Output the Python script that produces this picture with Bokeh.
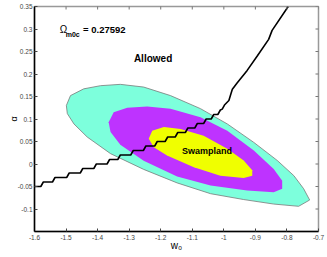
import math
from bokeh.plotting import figure
from bokeh.models import Range1d, FixedTicker, Label
from bokeh.embed import file_html
from bokeh.resources import INLINE

# ---- data ----
w0_ticks = [-1.6, -1.5, -1.4, -1.3, -1.2, -1.1, -1.0, -0.9, -0.8, -0.7]
w0_tick_labels = ["-1.6", "-1.5", "-1.4", "-1.3", "-1.2", "-1.1", "-1", "-0.9", "-0.8", "-0.7"]
alpha_ticks = [-0.1, -0.05, 0, 0.05, 0.1, 0.15, 0.2, 0.25, 0.3, 0.35]
alpha_tick_labels = ["-0.1", "-0.05", "0", "0.05", "0.1", "0.15", "0.2", "0.25", "0.3", "0.35"]

# outer (cyan) contour
outer_w = [-1.499, -1.486, -1.444, -1.391, -1.328, -1.254, -1.169, -1.074, -0.989, -0.905,
           -0.831, -0.778, -0.747, -0.728, -0.763, -0.842, -0.937, -1.042, -1.148, -1.254,
           -1.359, -1.433, -1.475, -1.496]
outer_a = [0.130, 0.152, 0.167, 0.174, 0.177, 0.171, 0.152, 0.123, 0.089, 0.048,
           0.008, -0.026, -0.055, -0.080, -0.094, -0.089, -0.079, -0.066, -0.042, -0.012,
           0.023, 0.060, 0.089, 0.112]

# middle (purple) contour
mid_w = [-1.365, -1.349, -1.306, -1.243, -1.169, -1.074, -0.989, -0.905, -0.842, -0.815,
         -0.815, -0.842, -0.926, -1.042, -1.148, -1.254, -1.328, -1.359]
mid_a = [0.093, 0.115, 0.125, 0.128, 0.123, 0.104, 0.074, 0.030, -0.011, -0.037,
         -0.055, -0.063, -0.059, -0.048, -0.028, 0.007, 0.043, 0.071]

# inner (yellow) contour
inner_w = [-1.238, -1.227, -1.190, -1.137, -1.064, -0.989, -0.937, -0.910, -0.910, -0.937,
           -1.011, -1.095, -1.180, -1.222]
inner_a = [0.056, 0.074, 0.082, 0.078, 0.063, 0.034, 0.008, -0.014, -0.026, -0.031,
           -0.026, -0.007, 0.019, 0.037]

# swampland boundary curve
curve_w = [-1.600, -1.580, -1.572, -1.543, -1.535, -1.498, -1.490, -1.455, -1.447, -1.412,
           -1.404, -1.370, -1.362, -1.336, -1.328, -1.295, -1.287, -1.255, -1.247, -1.219,
           -1.211, -1.186, -1.178, -1.154, -1.146, -1.122, -1.114, -1.092, -1.084, -1.064,
           -1.056, -1.040, -1.032, -1.019, -1.011, -1.005, -0.998, -0.984, -0.977, -0.973,
           -0.958, -0.926, -0.893, -0.858, -0.847, -0.796]
curve_a = [-0.05, -0.05, -0.04, -0.04, -0.03, -0.03, -0.02, -0.02, -0.01, -0.01,
           0.00, 0.00, 0.01, 0.01, 0.02, 0.02, 0.03, 0.03, 0.04, 0.04,
           0.05, 0.05, 0.06, 0.06, 0.07, 0.07, 0.08, 0.08, 0.09, 0.09,
           0.10, 0.10, 0.11, 0.11, 0.12, 0.122, 0.131, 0.141, 0.157, 0.166,
           0.180, 0.208, 0.241, 0.277, 0.297, 0.35]

FONT = "Liberation Sans"
X_MIN, X_MAX = -1.6, -0.7
Y_MIN, Y_MAX = -0.15, 0.35

p = figure(frame_width=284, frame_height=225,
           x_range=Range1d(X_MIN, X_MAX), y_range=Range1d(Y_MIN, Y_MAX),
           output_backend="svg", toolbar_location=None,
           min_border_left=34, min_border_right=9, min_border_top=6, min_border_bottom=26,
           background_fill_color="white", border_fill_color="white")
p.xgrid.visible = False
p.ygrid.visible = False
p.outline_line_color = "#999999"
p.outline_line_width = 1.5

p.xaxis.ticker = FixedTicker(ticks=w0_ticks)
p.xaxis.major_label_overrides = dict(zip(w0_ticks, w0_tick_labels))
p.yaxis.ticker = FixedTicker(ticks=alpha_ticks)
p.yaxis.major_label_overrides = dict(zip(alpha_ticks, alpha_tick_labels))
for ax in (p.xaxis[0], p.yaxis[0]):
    ax.axis_line_color = "black"
    ax.axis_line_width = 1.5
    ax.major_tick_in = 3
    ax.major_tick_out = 0
    ax.major_tick_line_color = "#444444"
    ax.minor_tick_line_color = None
    ax.major_label_text_font_size = "6.5px"
    ax.major_label_text_color = "#444444"
    ax.major_label_text_font = FONT
    ax.axis_label_text_font = FONT
    ax.axis_label_text_font_style = "normal"
    ax.axis_label_text_color = "black"
p.xaxis.major_label_standoff = 3
p.yaxis.major_label_standoff = 2

p.xaxis.axis_label = "w\u2080"
p.xaxis.axis_label_text_font_size = "10px"
p.xaxis.axis_label_standoff = -3
p.yaxis.axis_label = "\u03b1"
p.yaxis.axis_label_text_font_size = "9px"
p.yaxis.axis_label_standoff = -4

p.patch(outer_w, outer_a, fill_color="#7DFFDC", line_color="#7A7A7A", line_width=0.8)
p.patch(mid_w, mid_a, fill_color="#BE33FF", line_color=None)
p.patch(inner_w, inner_a, fill_color="#F0FF00", line_color=None)
p.line(curve_w, curve_a, line_color="black", line_width=1.6)

# inward tick marks on the top and right frame edges (half of each dash is clipped by the frame)
p.scatter(w0_ticks, [Y_MAX] * len(w0_ticks), marker="dash", size=6, angle=math.pi / 2,
          line_color="#777777", line_width=1)
p.scatter([X_MAX] * len(alpha_ticks), alpha_ticks, marker="dash", size=6,
          line_color="#777777", line_width=1)

def lab(x, y, text, size, bold=False, align="left", baseline="alphabetic"):
    p.add_layout(Label(x=x, y=y, text=text, text_font=FONT, text_font_size=size,
                       text_font_style="bold" if bold else "normal", text_align=align,
                       text_baseline=baseline, text_color="black"))

lab(-1.285, 0.234, "Allowed", "10px", bold=True, baseline="middle")
lab(-1.053, 0.029, "Swampland", "9px", bold=True, align="center", baseline="middle")
lab(-1.520, 0.300, "Ω", "10px")
lab(-1.501, 0.288, "m0c", "7px", bold=True)
lab(-1.446, 0.300, "= 0.27592", "9.5px", bold=True)

open("out.html", "w").write(file_html(p, INLINE))
